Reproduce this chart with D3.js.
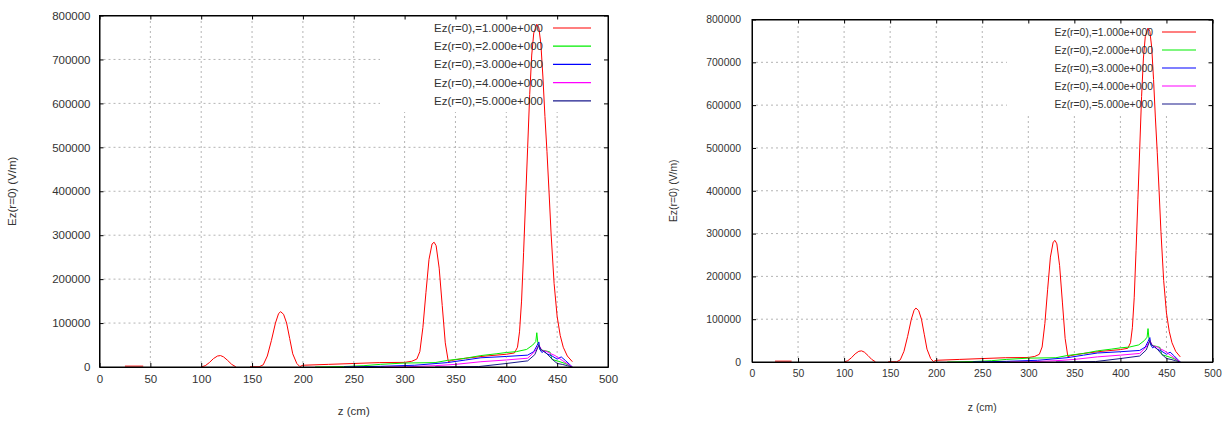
<html>
  <head>
    <meta charset="utf-8">
    <title>Ez(r=0) vs z</title>
    <script type="text/javascript" src="https://cdn.jsdelivr.net/npm/d3@7"></script>
    <style type="text/css">
      body { margin: 0; background: #fff; }
      svg text { font-family: "Liberation Sans", Arial, sans-serif; fill: #333; }
      .grid line { stroke: #b4b4b4; stroke-dasharray: 2,3; stroke-width: 1; }
      .curve { fill: none; stroke-width: 1; }
    </style>
  </head>
  <body>
    <svg width="1225" height="421"></svg>
    <script>
      // z ticks (cm) and Ez ticks (V/m)
      var xTicks = [0, 50, 100, 150, 200, 250, 300, 350, 400, 450, 500];
      var yTicks = [0, 100000, 200000, 300000, 400000, 500000, 600000, 700000, 800000];
      var labels = ['Ez(r=0),=1.000e+000', 'Ez(r=0),=2.000e+000', 'Ez(r=0),=3.000e+000',
                    'Ez(r=0),=4.000e+000', 'Ez(r=0),=5.000e+000'];
      var colors = ['#ff0000', '#00ee00', '#0000ff', '#ff00ff', '#1a1a8c'];

      // [z, Ez]  (null = gap in the data)
      var ez1 = [[25,2000],[43,2000],null,
        [100,0],[104,3000],[108,10000],[112,19000],[116,25000],[119,26000],[122,23000],[126,15000],[130,6000],[134,500],null,
        [148,500],[157,500],[161,5000],[165,25000],[169,60000],[173,100000],[176,121000],[178,126000],[181,120000],
        [184,100000],[187,65000],[190,30000],[194,8000],[197,1000],[200,4000],
        [225,6000],[250,8000],[275,10000],[300,10500],[307,13000],[312,18000],[315,35000],[318,90000],[321,170000],
        [324,245000],[327,280000],[329,284000],[331,276000],[334,225000],[337,140000],[340,55000],[343,12000],
        [346,15000],[360,20000],[380,25000],[400,29000],[408,32000],[411,45000],[413,80000],[415,150000],
        [417,260000],[419,380000],[421,500000],[423,620000],[425,710000],[427,760000],[430,780000],[432,772000],
        [434,735000],[436,660000],[438,570000],[440,490000],[442,400000],[444,305000],[447,190000],[450,115000],
        [453,72000],[456,45000],[460,25000],[465,12000]];
      var ez2 = [[212,0],[240,1000],[260,3000],[276,6000],[300,9000],[330,10000],[342,15000],[360,20000],
        [375,26000],[390,30000],[400,33000],[410,35000],[420,40000],[426,50000],[429,58000],[430,78000],
        [431,55000],[433,40000],[436,38000],[440,36000],[443,34000],[445,17000],[450,14000],[458,8000],[465,0]];
      var ez3 = [[240,0],[276,1500],[310,4000],[342,10000],[360,16000],[375,21000],[400,24000],[421,27000],
        [427,35000],[430,48000],[432,57000],[433,40000],[435,33000],[437,36000],[440,30000],[445,25000],
        [450,18000],[454,23000],[458,15000],[465,0]];
      var ez4 = [[280,0],[302,500],[330,3000],[350,6000],[375,12000],[400,16000],[421,20000],[428,35000],
        [432,50000],[435,38000],[440,35000],[444,30000],[448,26000],[455,15000],[465,0]];
      var ez5 = [[330,0],[373,1000],[400,8000],[421,14000],[428,28000],[432,50000],[434,40000],[437,35000],
        [440,30000],[445,18000],[450,8000],[455,6000],[460,3000],[465,0]];
      var series = [ez1, ez2, ez3, ez4, ez5];

      var svg = d3.select('svg');

      function drawPanel(p) {
        var x = d3.scaleLinear().domain([0, 500]).range([p.left, p.right]);
        var y = d3.scaleLinear().domain([0, 800000]).range([p.bottom, p.top]);
        var g = svg.append('g');

        // grid, kept out of the key area
        var grid = g.append('g').attr('class', 'grid');
        grid.selectAll('line.v').data(xTicks.slice(1, -1)).enter().append('line')
          .attr('x1', function(d){ return x(d); }).attr('x2', function(d){ return x(d); })
          .attr('y1', p.bottom - 4)
          .attr('y2', function(d){ return x(d) > p.keyLeft ? p.keyBottom : p.top + 4; });
        grid.selectAll('line.h').data(yTicks.slice(1, -1)).enter().append('line')
          .attr('y1', function(d){ return y(d); }).attr('y2', function(d){ return y(d); })
          .attr('x1', p.left + 4)
          .attr('x2', function(d){ return y(d) < p.keyBottom ? p.keyLeft : p.right - 4; });

        // curves
        var line = d3.line()
          .defined(function(d){ return d !== null; })
          .x(function(d){ return x(d[0]); })
          .y(function(d){ return y(d[1]); });
        g.selectAll('path.curve').data(series).enter().append('path')
          .attr('class', 'curve')
          .attr('stroke', function(d, i){ return colors[i]; })
          .attr('d', line);

        // axes, ticks pointing inward on all four sides
        var fs = p.fontSize;
        var ax = g.append('g').attr('transform', 'translate(0,' + p.bottom + ')')
          .call(d3.axisBottom(x).tickValues(xTicks).tickSizeInner(-4).tickSizeOuter(0).tickPadding(p.xPad));
        var ay = g.append('g').attr('transform', 'translate(' + p.left + ',0)')
          .call(d3.axisLeft(y).tickValues(yTicks).tickFormat(d3.format('d')).tickSizeInner(-4).tickSizeOuter(0).tickPadding(p.yPad));
        g.append('g').attr('transform', 'translate(0,' + p.top + ')')
          .call(d3.axisTop(x).tickValues(xTicks).tickSizeInner(-4).tickSizeOuter(0).tickFormat(''));
        g.append('g').attr('transform', 'translate(' + p.right + ',0)')
          .call(d3.axisRight(y).tickValues(yTicks).tickSizeInner(-4).tickSizeOuter(0).tickFormat(''));
        g.selectAll('.domain').attr('stroke', '#000');
        g.selectAll('.tick line').attr('stroke', '#000');
        g.selectAll('.tick text').attr('font-size', fs).attr('font-family', null).attr('fill', null);
        g.append('rect').attr('x', p.left).attr('y', p.top)
          .attr('width', p.right - p.left).attr('height', p.bottom - p.top)
          .attr('fill', 'none').attr('stroke', '#000');

        // axis titles
        g.append('text').attr('x', (p.left + p.right) / 2).attr('y', p.xTitleY)
          .attr('text-anchor', 'middle').attr('font-size', fs).text('z (cm)');
        g.append('text')
          .attr('transform', 'translate(' + p.yTitleX + ',' + (p.top + p.bottom) / 2 + ') rotate(-90)')
          .attr('text-anchor', 'middle').attr('font-size', fs).text('Ez(r=0) (V/m)');

        // key
        var key = g.selectAll('g.key').data(labels).enter().append('g').attr('class', 'key')
          .attr('transform', function(d, i){ return 'translate(0,' + (p.keyY + i * p.keyStep) + ')'; });
        key.append('text').attr('x', p.keyTextX).attr('dy', '0.35em')
          .attr('text-anchor', 'end').attr('font-size', fs).text(function(d){ return d; });
        key.append('line').attr('x1', p.keyLineX1).attr('x2', p.keyLineX2)
          .attr('stroke', function(d, i){ return colors[i]; }).attr('stroke-width', 1.2);
      }

      drawPanel({left: 99.5, right: 608, top: 15.5, bottom: 367, fontSize: 11.5, xPad: 8, yPad: 9,
                 xTitleY: 415, yTitleX: 16, keyLeft: 380, keyBottom: 112,
                 keyY: 28, keyStep: 18.2, keyTextX: 543, keyLineX1: 553, keyLineX2: 591});
      drawPanel({left: 752, right: 1212.5, top: 19.5, bottom: 362, fontSize: 10.4, xPad: 8, yPad: 11,
                 xTitleY: 411, yTitleX: 677, keyLeft: 1007, keyBottom: 113,
                 keyY: 32, keyStep: 18, keyTextX: 1153, keyLineX1: 1162, keyLineX2: 1196});
    </script>
  </body>
</html>
